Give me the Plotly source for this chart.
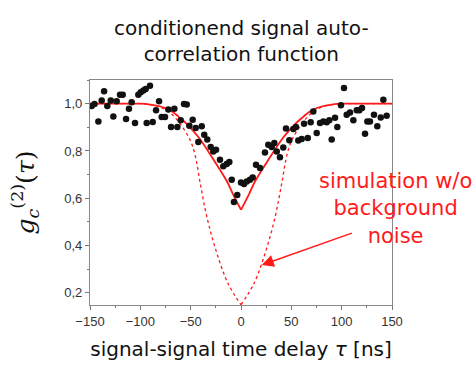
import plotly.graph_objects as go

# measured data points (tau in ns, g2)
tau_data = [-148.3, -145.5, -141.7, -138.4, -136.0, -132.8, -129.4, -126.8, -123.5, -120.2,
            -117.5, -114.2, -111.3, -108.6, -105.3, -102.0, -99.6, -97.0, -94.7, -93.7,
            -90.4, -87.7, -84.4, -81.4, -78.8, -75.5, -72.2, -69.5, -66.2, -63.2,
            -59.9, -56.6, -53.9, -51.3, -48.0, -45.0, -42.4, -39.0, -36.5, -33.5,
            -30.1, -27.5, -24.8, -20.9, -17.6, -14.2, -11.6, -9.2, -7.0, -3.7,
            0.0, 3.0, 5.7, 8.9, 11.6, 14.9, 18.9, 23.8, 27.1, 30.5,
            33.1, 35.5, 38.7, 42.0, 44.7, 48.0, 52.0, 54.6, 56.9, 60.3,
            62.6, 66.3, 69.2, 71.8, 75.2, 78.5, 81.8, 85.1, 87.7, 90.1,
            93.4, 95.7, 99.3, 102.3, 105.0, 108.3, 111.6, 115.0, 117.6, 120.2,
            123.2, 125.5, 128.1, 132.1, 135.4, 138.8, 141.4, 144.7]
g2_data = [0.990, 0.999, 0.925, 1.013, 1.052, 0.990, 1.013, 0.946, 1.010, 1.038,
           1.038, 0.935, 0.978, 1.006, 0.918, 1.038, 1.048, 1.056, 1.062, 0.918,
           1.076, 0.923, 0.972, 1.010, 0.944, 0.944, 0.975, 0.901, 0.979, 0.901,
           0.930, 0.999, 0.996, 0.907, 0.932, 0.897, 0.838, 0.904, 0.869, 0.848,
           0.817, 0.798, 0.805, 0.763, 0.735, 0.745, 0.753, 0.678, 0.584, 0.614,
           0.667, 0.660, 0.671, 0.678, 0.688, 0.742, 0.728, 0.794, 0.826, 0.817,
           0.834, 0.798, 0.774, 0.815, 0.895, 0.845, 0.893, 0.901, 0.844, 0.851,
           0.915, 0.855, 0.921, 0.967, 0.876, 0.918, 0.925, 0.921, 0.930, 0.848,
           0.940, 0.901, 0.993, 1.066, 0.953, 0.963, 0.930, 0.972, 0.972, 0.982,
           0.873, 0.925, 0.925, 0.953, 0.904, 0.942, 1.017, 0.949]

# fit curve (solid), left and right branches meet in a cusp at tau = 0
tau_fit_left = [-150, -120, -100, -90, -80, -72, -67, -62, -54, -47.5, -41, -27.5, -14, -7.5, 0]
g2_fit_left = [1.0, 1.0, 1.0, 0.996, 0.988, 0.975, 0.963, 0.945, 0.915, 0.885, 0.852, 0.765, 0.672, 0.613, 0.551]
tau_fit_right = [0, 7.5, 14, 27.5, 41, 47.5, 54, 62, 67, 72, 80, 90, 100, 120, 150]
g2_fit_right = [0.551, 0.613, 0.672, 0.765, 0.852, 0.885, 0.915, 0.945, 0.963, 0.975, 0.988, 0.996, 1.0, 1.0, 1.0]

# simulation without background noise (dotted)
tau_sim_left = [-150, -120, -100, -90, -80, -70, -60, -51, -46, -40.5, -34, -25, -13, 0]
g2_sim_left = [1.0, 1.0, 1.0, 0.996, 0.985, 0.96, 0.912, 0.85, 0.79, 0.664, 0.523, 0.382, 0.241, 0.15]
tau_sim_right = [0, 13, 25, 34, 40.5, 46, 51, 60, 70, 80, 90, 100, 120, 150]
g2_sim_right = [0.15, 0.241, 0.382, 0.523, 0.664, 0.79, 0.85, 0.912, 0.96, 0.985, 0.996, 1.0, 1.0, 1.0]

x_ticks = [-150, -100, -50, 0, 50, 100, 150]
y_ticks = [0.2, 0.4, 0.6, 0.8, 1.0]

red = "#ff1a1a"
text_font = "DejaVu Sans, sans-serif"
fig = go.Figure()
for tx, ty in [(tau_sim_left, g2_sim_left), (tau_sim_right, g2_sim_right)]:
    fig.add_trace(go.Scatter(x=tx, y=ty, mode="lines", line_shape="spline",
                             line=dict(color=red, width=1.3, dash="dot"), hoverinfo="skip"))
for tx, ty in [(tau_fit_left, g2_fit_left), (tau_fit_right, g2_fit_right)]:
    fig.add_trace(go.Scatter(x=tx, y=ty, mode="lines", line_shape="spline",
                             line=dict(color=red, width=1.8), hoverinfo="skip"))
fig.add_trace(go.Scatter(x=tau_data, y=g2_data, mode="markers",
                         marker=dict(color="#111111", size=6.5)))

fig.add_annotation(x=20.6, y=0.318, ax=111.6, ay=0.455, xref="x", yref="y", axref="x", ayref="y",
                   text="", showarrow=True, arrowhead=2, arrowsize=1.6, arrowwidth=1.5,
                   arrowcolor=red)
fig.add_annotation(x=1.013, y=(305 - 167) / 225, xref="paper", yref="paper",
                   xanchor="center", yanchor="top",
                   text="simulation w/o<br>background<br>noise", showarrow=False, align="center",
                   font=dict(family=text_font, size=21, color=red))
fig.add_annotation(x=0.5, y=(305 - 14) / 225, xref="paper", yref="paper",
                   xanchor="center", yanchor="top", showarrow=False, align="center",
                   text="conditionend signal auto-<br>correlation function",
                   font=dict(family=text_font, size=20, color="#111111"))

fig.update_layout(
    width=475, height=366,
    margin=dict(l=90, r=83, t=80, b=61),
    paper_bgcolor="white", plot_bgcolor="white",
    showlegend=False,
    separators=", ",
    xaxis=dict(range=[-150, 150], tickvals=x_ticks, ticks="outside", ticklen=4,
               automargin=False,
               minor=dict(dtick=25, ticks="outside", ticklen=2, tickcolor="#777"),
               showline=True, linecolor="#888", linewidth=1.2, mirror=True,
               showgrid=False, zeroline=False, tickcolor="#777",
               tickfont=dict(family="Liberation Sans, Arial", size=13, color="#333"),
               title=dict(text="signal-signal time delay <i>τ</i> [ns]", standoff=14,
                          font=dict(family=text_font, size=20, color="#111"))),
    yaxis=dict(range=[0.149, 1.10], tickvals=y_ticks, tickformat=".1f", ticks="outside", ticklen=4,
               automargin=False,
               minor=dict(dtick=0.1, tick0=0.1, ticks="outside", ticklen=2, tickcolor="#777"),
               showline=True, linecolor="#888", linewidth=1.2, mirror=True,
               showgrid=False, zeroline=False, tickcolor="#777",
               tickfont=dict(family="Liberation Sans, Arial", size=13, color="#333"),
               title=dict(text="<i>g</i><sub><i>c</i></sub><sup>(2)</sup>(<i>τ</i>)", standoff=22,
                          font=dict(family="DejaVu Serif, serif", size=25, color="#111"))),
)

fig.write_html("out.html", post_script="document.body.style.margin='0';",
               config={"displayModeBar": False})
